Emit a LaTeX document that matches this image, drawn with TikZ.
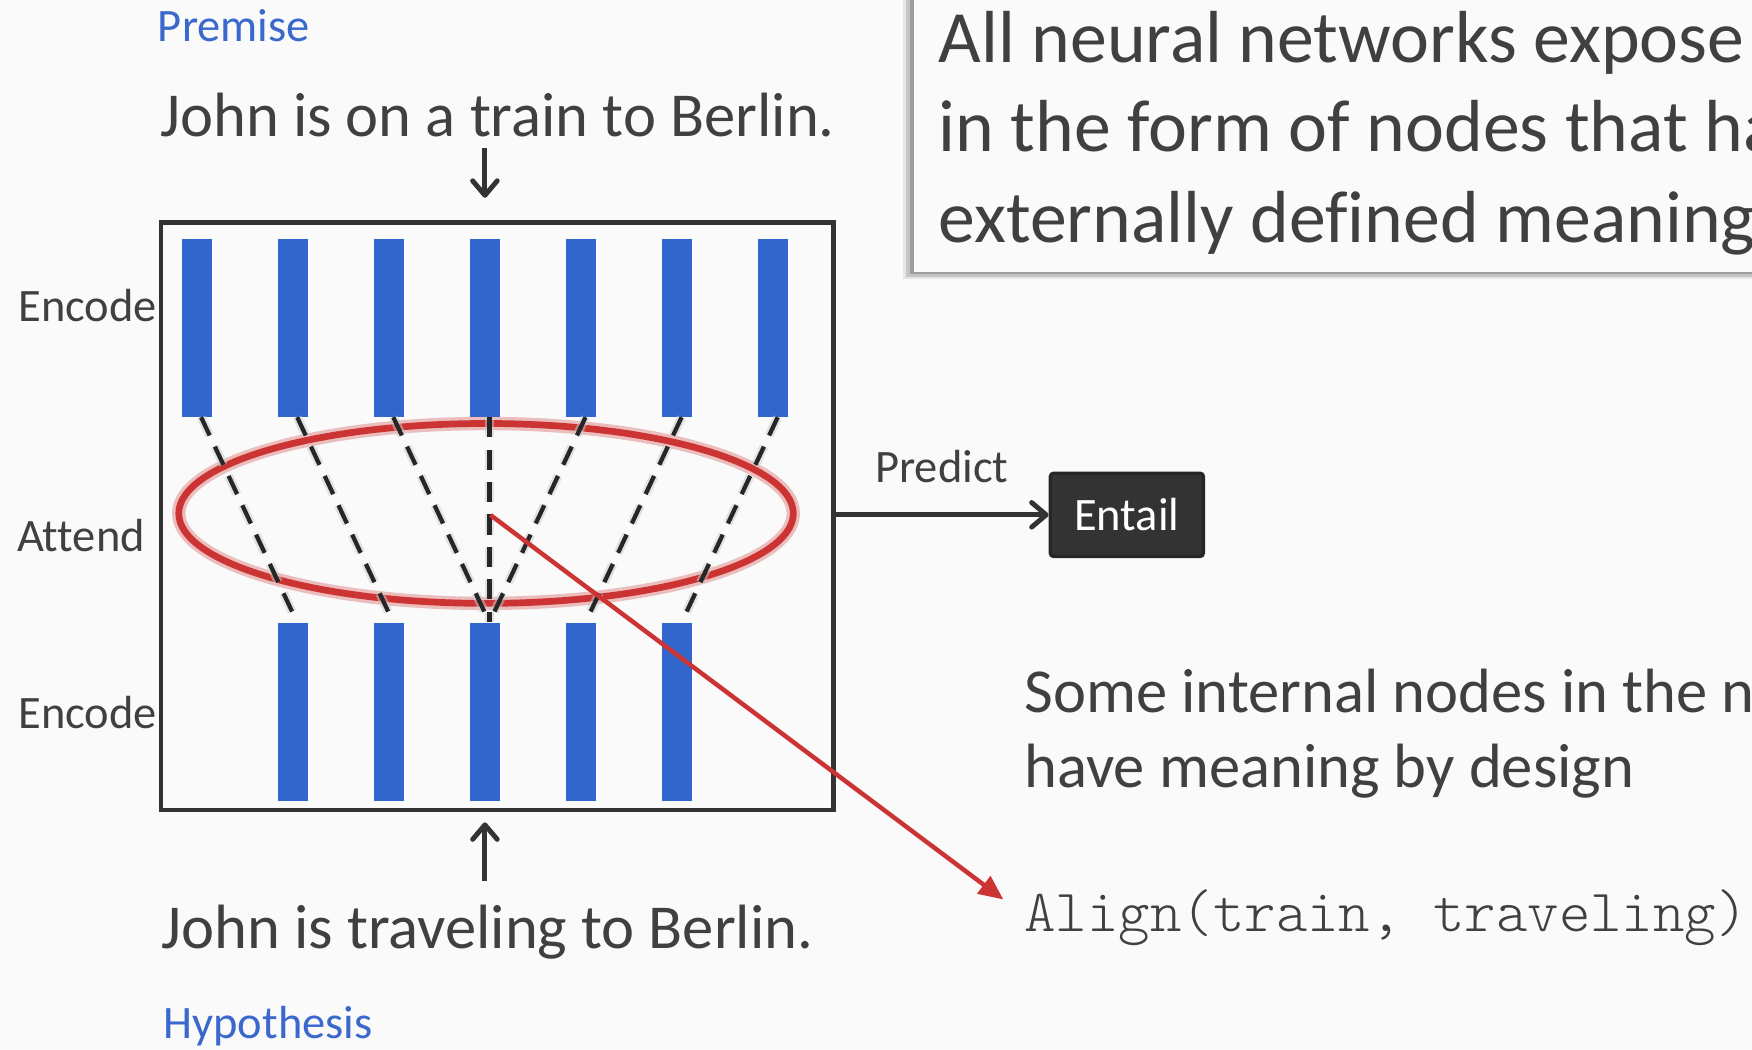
\documentclass[tikz,border=0pt]{standalone}
\usepackage{fontspec}
\setmainfont{Carlito}[Ligatures=NoCommon]
\newfontfamily\codefont{lmmonolt10-regular.otf}
\usetikzlibrary{arrows.meta,shapes.geometric}

\definecolor{bgcol}{HTML}{FAFAFA}
\definecolor{inkgray}{HTML}{404040}
\definecolor{barblue}{HTML}{3366CC}
\definecolor{tagblue}{HTML}{3A68CC}
\definecolor{attred}{HTML}{CC3333}
\definecolor{boxgray}{HTML}{333333}

\tikzset{
  bar/.style={fill=barblue, minimum width=13.5pt, minimum height=79.5pt, inner sep=0pt},
  lbl/.style={anchor=base west, inner sep=0pt, text=inkgray, font=\fontsize{20.8}{24}\selectfont},
  tag/.style={lbl, text=tagblue},
  sent/.style={anchor=base west, inner sep=0pt, text=inkgray, font=\fontsize{28}{34}\selectfont},
  big/.style={anchor=base west, inner sep=0pt, text=inkgray, font=\fontsize{33}{40}\selectfont},
  mono/.style={anchor=base west, inner sep=0pt, text=inkgray, font=\codefont\fontsize{26.8}{30}\selectfont},
  netbox/.style={draw=boxgray, line width=2pt, minimum width=301pt, minimum height=263pt, inner sep=0pt},
  outnode/.style={fill=boxgray, draw=black!85, line width=1.5pt, rounded corners=1.5pt,
    minimum width=68.5pt, minimum height=37.25pt, inner sep=0pt, text=white,
    font=\fontsize{20.8}{24}\selectfont},
  attnring/.style={ellipse, draw=attred, line width=3pt, minimum width=275pt, minimum height=80.5pt,
    inner sep=0pt, preaction={draw=attred, line width=6pt, opacity=0.3}},
  alignline/.style={draw=black!85, line width=1.9pt, dash pattern=on 9pt off 5.5pt,
    preaction={draw=gray!40, line width=4pt, opacity=0.5, dash pattern=on 9pt off 5.5pt}},
  arr/.style={draw=boxgray, line width=2.2pt, -{Straight Barb[length=6.5pt,width=11pt,round]}},
  redarr/.style={draw=attred, line width=2pt, -{Triangle[length=11pt,width=9.5pt]}}
}

\begin{document}
\begin{tikzpicture}[x=0.5pt,y=-0.5pt]
\useasboundingbox (0,0) rectangle (1568,939);
\clip (0,0) rectangle (1568,939);
\fill[bgcol] (0,0) rectangle (1568,939);

% callout top right
\fill[black,opacity=0.08] (808,-20) rectangle (1600,250);
\fill[black,opacity=0.14] (811,-20) rectangle (1600,247.5);
\fill[black,opacity=0.20] (814,-20) rectangle (1600,245);
\fill[bgcol] (818,-20) rectangle (1600,243);
\node[big] (c1) at (839.5,55.5) {All neural networks expose};
\node[big] (c2) at (839.5,136) {in the form of nodes that ha};
\node[big] (c3) at (839.5,216.6) {externally defined meaning};

% sentences
\node[tag] (premlbl) at (141,37.3) {Premise};
\node[sent] (prem) at (143,122.6) {John is on a train to Berlin.};
\node[sent] (hyp) at (144,848.5) {John is traveling to Berlin.};
\node[tag] (hyplbl) at (146,929) {Hypothesis};

\node[lbl] (enc1) at (16,288) {Encode};
\node[lbl] (att) at (15,493.8) {Attend};
\node[lbl] (enc2) at (16,651.6) {Encode};

% network
\node[netbox] (net) at (445,462) {};

\path	(176,293.5) node[bar] (t1) {}
		(262,293.5) node[bar] (t2) {}
		(348,293.5) node[bar] (t3) {}
		(434,293.5) node[bar] (t4) {}
		(520,293.5) node[bar] (t5) {}
		(606,293.5) node[bar] (t6) {}
		(692,293.5) node[bar] (t7) {}
		(262,637) node[bar] (b1) {}
		(348,637) node[bar] (b2) {}
		(434,637) node[bar] (b3) {}
		(520,637) node[bar] (b4) {}
		(606,637) node[bar] (b5) {}
		;

\node[attnring] (attn) at (435,459.5) {};

\draw[alignline] ([xshift=2pt]t1.south) -- ([xshift=2pt]b1.north);
\draw[alignline] ([xshift=2pt]t2.south) -- ([xshift=2pt]b2.north);
\draw[alignline] ([xshift=2pt]t3.south) -- ([xshift=2pt]b3.north);
\draw[alignline] ([xshift=2pt]t4.south) -- ([xshift=2pt]b3.north);
\draw[alignline] ([xshift=2pt]t5.south) -- ([xshift=2pt]b3.north);
\draw[alignline] ([xshift=2pt]t6.south) -- ([xshift=2pt]b4.north);
\draw[alignline] ([xshift=2pt]t7.south) -- ([xshift=2pt]b5.north);

\draw[arr, shorten <=4.5pt, shorten >=10pt] (t4 |- prem.south) -- (t4 |- net.north);
\draw[arr, shorten <=10.5pt, shorten >=4.5pt] (t4 |- hyp.north) -- (t4 |- net.south);

% prediction
\node[outnode] (entail) at (1008.5,460.75) {Entail};
\node[lbl] (pred) at (783,431.6) {Predict};
\draw[arr] (net.east |- entail.west) -- (entail.west);

% right side text
\node[sent] (s1) at (916.5,638) {Some internal nodes in the n};
\node[sent] (s2) at (916.5,705) {have meaning by design};
\node[mono] (align) at (916.5,834) {Align(train, traveling)};

\coordinate (tip) at (898,805);
\draw[redarr] ([shift={(4,1.5)}]attn.center) -- (tip);
\end{tikzpicture}
\end{document}
